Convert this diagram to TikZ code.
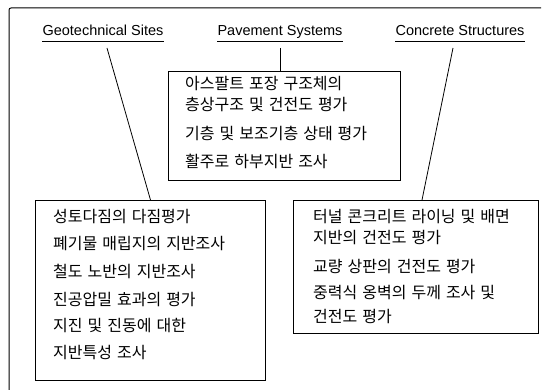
\documentclass[tikz,border=0pt]{standalone}
\usepackage{fontspec}
\setmainfont{Liberation Sans}
\newfontfamily\kor[WordSpace=1.4]{Noto Sans CJK KR}
\begin{document}
\begin{tikzpicture}[x=1pt,y=-1pt,
  boxstyle/.style={draw,line width=1pt,inner sep=0pt,anchor=north west},
  head/.style={inner sep=0pt,anchor=base,font=\fontsize{14.5}{16}\selectfont},
  item/.style={inner sep=0pt,anchor=base west,font=\kor\fontsize{16}{18}\selectfont},
  conn/.style={line width=0.8pt}]
\useasboundingbox (0,0) rectangle (554,390);
% outer frame
\draw[line width=1pt,rounded corners=2pt] (9,390) -- (9,8) -- (541,8);
% headings
\node[head] (geo) at (103,36) {Geotechnical Sites};
\node[head] (pav) at (280,36) {Pavement Systems};
\node[head] (con) at (460,36) {Concrete Structures};
\foreach \n in {geo,pav,con}{
  \draw[line width=0.8pt] ([yshift=-5.5pt]\n.base west) -- ([yshift=-5.5pt]\n.base east);
}
% boxes
\node[boxstyle,minimum width=232pt,minimum height=109pt] (pavbox) at (168,71) {};
\node[boxstyle,minimum width=230pt,minimum height=180pt] (geobox) at (35,200) {};
\node[boxstyle,minimum width=245pt,minimum height=133pt] (conbox) at (293,200) {};
% connectors
\draw[conn] ([xshift=4pt,yshift=-12pt]geo.base) -- (geobox.north);
\draw[conn] ([yshift=-12pt]pav.base) -- (pav.base |- pavbox.north);
\draw[conn] ([xshift=-7pt,yshift=-12pt]con.base) -- ([xshift=6pt]conbox.north);
% pavement text
\node[item] (p1) at (185,89.5) {아스팔트 포장 구조체의};
\node[item] (p2) at (185,110.5) {층상구조 및 건전도 평가};
\node[item] (p3) at (185,139.5) {기층 및 보조기층 상태 평가};
\node[item] (p4) at (185,167.5) {활주로 하부지반 조사};
% geotechnical text
\node[item] (g1) at (53,222.5) {성토다짐의 다짐평가};
\node[item] (g2) at (53,249.5) {폐기물 매립지의 지반조사};
\node[item] (g3) at (53,277.5) {철도 노반의 지반조사};
\node[item] (g4) at (53,305.5) {진공압밀 효과의 평가};
\node[item] (g5) at (53,331.5) {지진 및 진동에 대한};
\node[item] (g6) at (53,358.5) {지반특성 조사};
% concrete text
\node[item] (c1) at (313,222.5) {터널 콘크리트 라이닝 및 배면};
\node[item] (c2) at (313,243.5) {지반의 건전도 평가};
\node[item] (c3) at (313,272.5) {교량 상판의 건전도 평가};
\node[item] (c4) at (313,298.5) {중력식 옹벽의 두께 조사 및};
\node[item] (c5) at (313,322.5) {건전도 평가};
\end{tikzpicture}
\end{document}
